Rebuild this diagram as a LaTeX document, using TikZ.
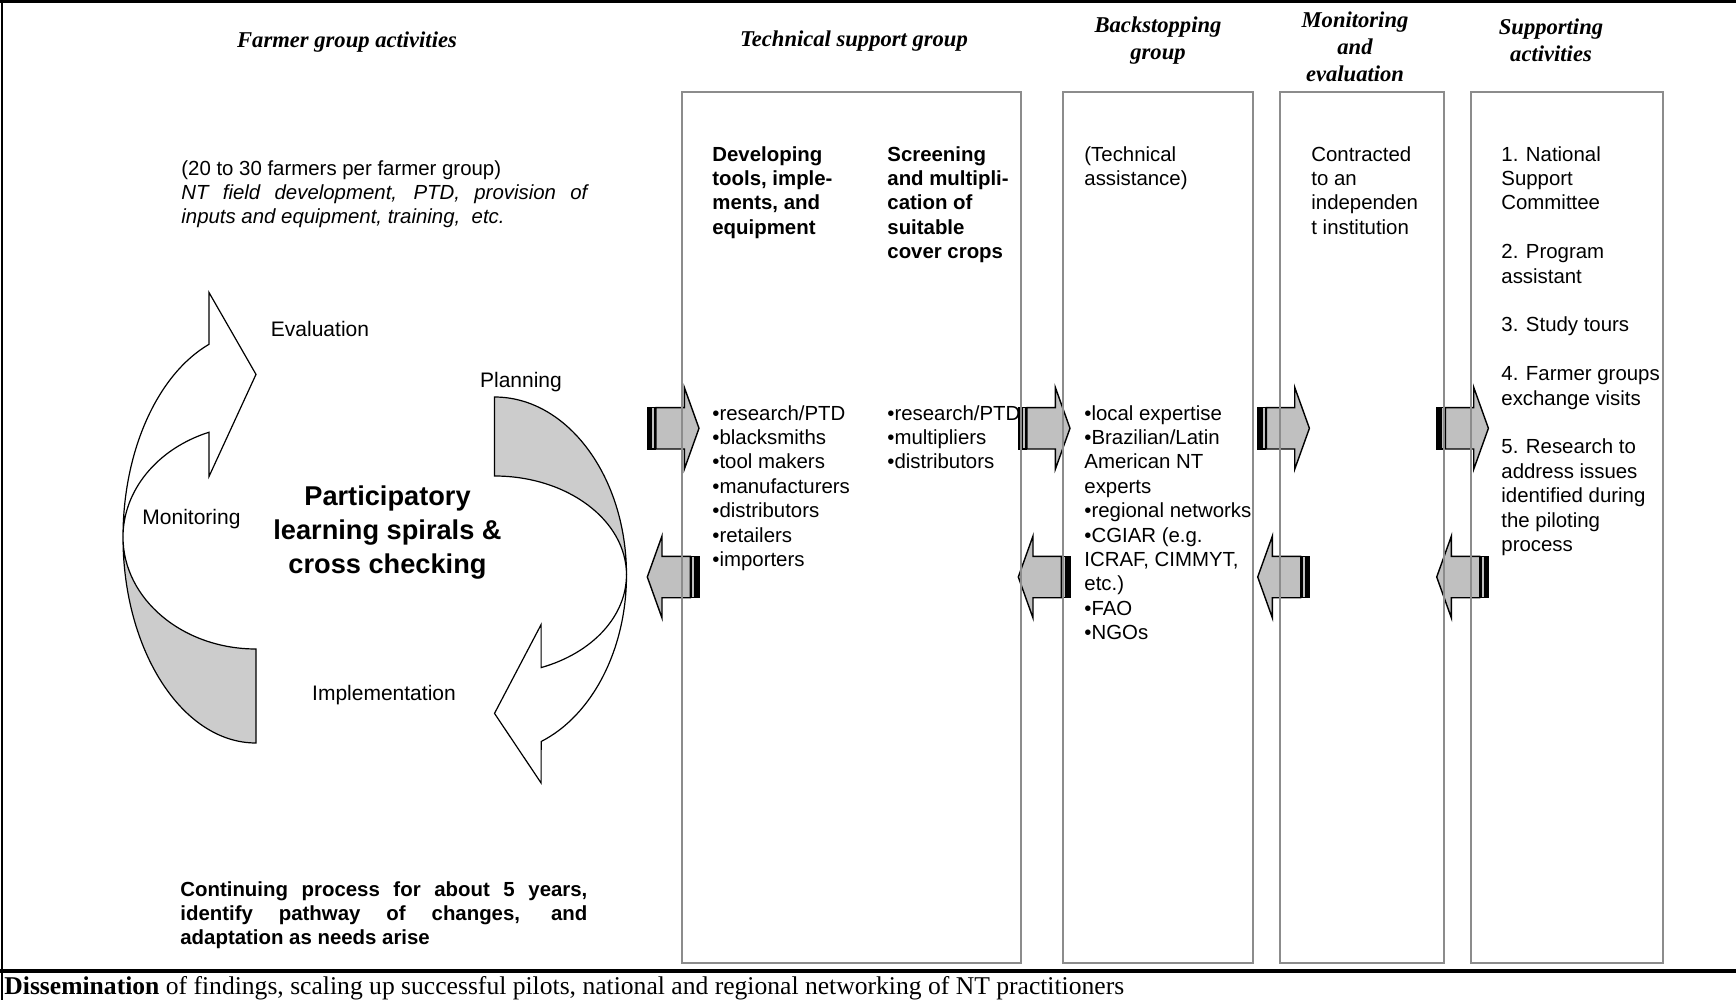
\documentclass[tikz,border=0pt]{standalone}
\usepackage{fontspec}
\setmainfont{Liberation Sans}
\newfontfamily\timesfont{Liberation Serif}

\definecolor{boxgray}{HTML}{8C8C8C}
\definecolor{backgray}{HTML}{CCCCCC}
\definecolor{arrowgray}{HTML}{C0C0C0}

\tikzset{
  frame/.style={line width=1.5pt},
  groupbox/.style={draw=boxgray, line width=1pt},
  heading/.style={font=\timesfont\bfseries\itshape\fontsize{11.3}{13.5}\selectfont, align=center, inner sep=0pt},
  boxtext/.style={font=\fontsize{10.2}{12.2}\selectfont, align=left, anchor=north west, inner sep=0pt},
  boldtext/.style={boxtext, font=\bfseries\fontsize{10.2}{12.2}\selectfont},
  looplabel/.style={font=\fontsize{10.5}{12.6}\selectfont, inner sep=0pt},
  spiral/.style={draw=black, fill=white, line width=0.6pt},
  spiralback/.style={draw=black, fill=backgray, line width=0.6pt},
  blockarrow/.style={draw=black, fill=arrowgray, line width=0.7pt}
}

% striped block arrow: tail x, centre y, direction (1 right, -1 left)
\newcommand{\striparrow}[3]{%
  \begin{scope}[shift={(#1,#2)}, xscale=#3]
    \filldraw[blockarrow, fill=black] (0,-20.7) rectangle (2.7,20.7);
    \filldraw[blockarrow] (4.2,-20.7) rectangle (7.6,20.7);
    \filldraw[blockarrow] (8.7,20.7) -- (37,20.7) -- (37,41) -- (51.7,0)
      -- (37,-41) -- (37,-20.7) -- (8.7,-20.7) -- cycle;
  \end{scope}}

\begin{document}
\begin{tikzpicture}[x=0.5pt, y=0.5pt]
  \useasboundingbox (0,0) rectangle (1736,-1000);

  % frame
  \draw[frame] (0,-1.5) -- (1736,-1.5);
  \draw[frame, line width=1.2pt] (2,0) -- (2,-1000);
  \draw[frame, line width=1.7pt] (0,-971) -- (1736,-971);

  % learning spiral
  \filldraw[spiralback] (123,-537) arc[start angle=180, end angle=270, x radius=133, y radius=206]
    -- (256,-649) arc[start angle=270, end angle=180, x radius=133, y radius=112] -- cycle;
  \filldraw[spiral] (209,-344.3) arc[start angle=110.7, end angle=180, x radius=133, y radius=206]
    arc[start angle=180, end angle=110.7, x radius=133, y radius=112]
    -- (209,-476.5) -- (256,-374.4) -- (209,-292.5) -- cycle;
  \filldraw[spiralback] (494.5,-397) arc[start angle=90, end angle=0, x radius=132, y radius=178]
    arc[start angle=0, end angle=90, x radius=132, y radius=99] -- cycle;
  \filldraw[spiral] (626.5,-575) arc[start angle=0, end angle=-69.3, x radius=132, y radius=178]
    -- (541.1,-783) -- (494.5,-713.4) -- (541.1,-624.6) -- (541.1,-667.6)
    arc[start angle=-69.3, end angle=0, x radius=132, y radius=99] -- cycle;

  % block arrows
  \foreach \ax in {647.3,1018.3,1257.7,1436.7} {
    \striparrow{\ax}{-428.3}{1}
    \striparrow{\ax+51.7}{-577}{-1}
  }

  % group boxes
  \draw[groupbox] (681.5,-92) rectangle (1021,-963);
  \draw[groupbox] (1063,-92) rectangle (1253,-963);
  \draw[groupbox] (1280,-92) rectangle (1443.5,-963);
  \draw[groupbox] (1471,-92) rectangle (1663,-963);

  % headings
  \node[heading] (farmhead) at (347,-42) {Farmer group activities};
  \node[heading] (techhead) at (854,-41) {Technical support group};
  \node[heading] (backhead) at (1158,-41) {Backstopping\\group};
  \node[heading] (mehead) at (1355,-47) {Monitoring\\and\\evaluation};
  \node[heading] (supphead) at (1551,-40) {Supporting\\activities};

  % farmer group
  \node[boxtext, text width=203pt, align=justify] (farmtext) at (181,-160)
    {(20 to 30 farmers per farmer group)\\
     \textit{NT field development, PTD, provision of\linebreak inputs and equipment, training,\ \ etc.}};
  \node[looplabel] (evaluation) at (320,-329) {Evaluation};
  \node[looplabel] (planning) at (521,-382) {Planning};
  \node[looplabel] (monitoring) at (191.5,-519) {Monitoring};
  \node[looplabel] (implementation) at (384,-695) {Implementation};
  \node[font=\bfseries\fontsize{13.6}{16.8}\selectfont, align=center, inner sep=0pt] (spirals)
    at (387.5,-532.5) {Participatory\\learning spirals \&\\cross checking};
  \node[boldtext, text width=203.5pt, align=justify] (continuing) at (180,-881)
    {Continuing process for about 5 years,\linebreak identify pathway of changes, and\linebreak adaptation as needs arise};

  % technical support group
  \node[boldtext] (tooltitle) at (712,-146) {Developing\\tools, imple-\\ments, and\\equipment};
  \node[boldtext] (croptitle) at (887,-146) {Screening\\and multipli-\\cation of\\suitable\\cover crops};
  \node[boxtext] (toollist) at (712,-405)
    {•research/PTD\\•blacksmiths\\•tool makers\\•manufacturers\\•distributors\\•retailers\\•importers};
  \node[boxtext] (croplist) at (887,-405) {•research/PTD\\•multipliers\\•distributors};

  % backstopping group
  \node[boxtext] (backtitle) at (1084,-146) {(Technical\\assistance)};
  \node[boxtext] (backlist) at (1084,-405)
    {•local expertise\\•Brazilian/Latin\\American NT\\experts\\•regional networks\\•CGIAR (e.g.\\ICRAF, CIMMYT,\\etc.)\\•FAO\\•NGOs};

  % monitoring and evaluation
  \node[boxtext] (metext) at (1311,-146) {Contracted\\to an\\independen\\t institution};

  % supporting activities
  \node[boxtext] (supptext) at (1501,-146)
    {1. National\\Support\\Committee\\[12.2pt]2. Program\\assistant\\[12.2pt]3. Study tours\\[12.2pt]4. Farmer groups\\exchange visits\\[12.2pt]5. Research to\\address issues\\identified during\\the piloting\\process};

  % dissemination
  \node[font=\timesfont\fontsize{12.8}{15}\selectfont, anchor=west, inner sep=0pt] (dissem) at (4,-988)
    {\textbf{Dissemination} of findings, scaling up successful pilots, national and regional networking of NT practitioners};
\end{tikzpicture}
\end{document}
